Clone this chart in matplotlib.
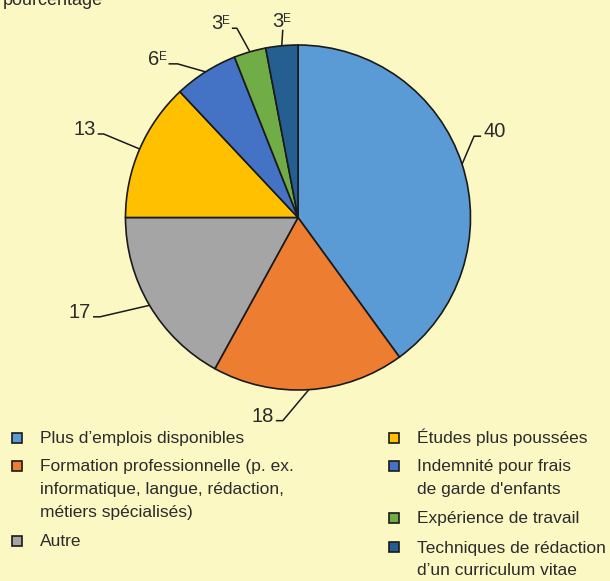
import numpy as np
import matplotlib
matplotlib.use('Agg')
import matplotlib.pyplot as plt
from matplotlib.patches import Rectangle

# donnees
categories = ["Plus d\u2019emplois disponibles",
              "Formation professionnelle (p. ex.\ninformatique, langue, r\u00e9daction,\nm\u00e9tiers sp\u00e9cialis\u00e9s)",
              "Autre",
              "\u00c9tudes plus pouss\u00e9es",
              "Indemnit\u00e9 pour frais\nde garde d'enfants",
              "Exp\u00e9rience de travail",
              "Techniques de r\u00e9daction\nd\u2019un curriculum vitae"]
valeurs = [40, 18, 17, 13, 6, 3, 3]
estime = [False, False, False, False, True, True, True]   # E = a utiliser avec prudence
couleurs = ['#5B9BD5', '#ED7D31', '#A5A5A5', '#FFC000', '#4472C4', '#70AD47', '#255E91']

fond = '#FBF8C4'
texte = '#2B2B2B'
W, H = 610, 581

plt.rcParams['font.family'] = ['Liberation Sans', 'DejaVu Sans']

fig = plt.figure(figsize=(W/100, H/100), dpi=100, facecolor=fond)
ax = fig.add_axes([0, 0, 1, 1])

def py(y):   # coordonnee image (vers le bas) -> coordonnee axe
    return H - y

cx, cy, R = 298, py(217.5), 172.5
wedges, _ = ax.pie(valeurs, colors=couleurs, startangle=90, counterclock=False,
                   radius=R, center=(cx, cy), frame=True,
                   wedgeprops=dict(edgecolor='#1a1a1a', linewidth=1.2))
ax.set_xlim(0, W)
ax.set_ylim(0, H)
ax.set_aspect('auto')
ax.axis('off')

# lignes de rappel : coude (dx, dy en pixels image), longueur du bout horizontal
coudes = [(12, -28), (-26, 31), (-49.5, 11.5), (-36, -15), (-28, -8), (-13, -23.6), (1, -16)]
bouts = [7, -7, -7, -6, -9, -5, 0]

for w, v, e, (dx, dy), b in zip(wedges, valeurs, estime, coudes, bouts):
    a = np.deg2rad((w.theta1 + w.theta2) / 2)
    x0, y0 = cx + R*np.cos(a), cy + R*np.sin(a)
    x1, y1 = x0 + dx, y0 - dy
    x2 = x1 + b
    ax.plot([x0, x1, x2], [y0, y1, y1], color='#1a1a1a', lw=1.1, solid_capstyle='butt')
    if b > 0:
        xt, ha = x2 + 2, 'left'
    elif b < 0:
        xt, ha = x2 - 2, 'right'
    else:
        xt, ha = x1 - 2, 'center'
    yt = y1 - 1 if b != 0 else y1 + 3
    if e:
        # chiffre + petit E en exposant
        if ha == 'right':
            ax.text(xt, yt + 5, 'E', ha='right', va='baseline', fontsize=8.5, color=texte)
            ax.text(xt - 7, yt, str(v), ha='right', va='baseline', fontsize=14.5, color=texte)
        else:
            ax.text(xt - 3, yt, str(v), ha='center', va='baseline', fontsize=14.5, color=texte)
            ax.text(xt + 2, yt + 5, 'E', ha='left', va='baseline', fontsize=8.5, color=texte)
    else:
        ax.text(xt, yt, str(v), ha=ha, va='baseline', fontsize=14.5, color=texte)

ax.text(3, py(5), 'pourcentage', ha='left', va='baseline', fontsize=13, color=texte)

# legende en deux colonnes
col_x = [16.5, 394]
txt_x = [40, 417]
lignes_y = [[438, 466, 541], [438, 466, 518, 547]]
items = [[0, 1, 2], [3, 4, 5, 6]]
for c in range(2):
    for i, yc in zip(items[c], lignes_y[c]):
        ax.add_patch(Rectangle((col_x[c] - 5, py(yc) - 5), 10, 10, facecolor=couleurs[i],
                               edgecolor='#1a1a1a', lw=1.2))
        for k, ligne in enumerate(categories[i].split('\n')):
            ax.text(txt_x[c], py(yc + 5.5 + 22.5*k), ligne, ha='left', va='baseline',
                    fontsize=12.5, color=texte)

fig.savefig('out.png', dpi=100, facecolor=fond)
